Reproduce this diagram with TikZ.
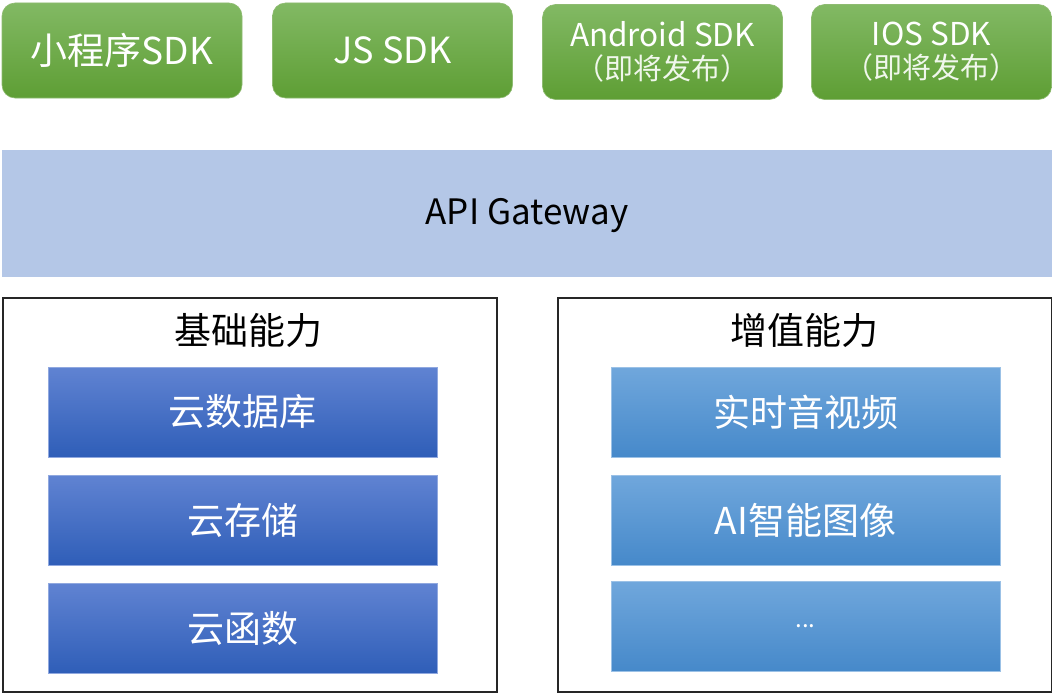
\documentclass[tikz,border=0pt]{standalone}
\usepackage{fontspec}
\setmainfont{Noto Sans CJK SC}
\begin{document}
\begin{tikzpicture}[x=1pt,y=-1pt,
  sdk/.style={rounded corners=13pt,top color=green1,bottom color=green2,draw=green2!70!white,line width=0.6pt,
    minimum width=240pt,minimum height=95pt,inner sep=0pt,text=white,align=center},
  basebox/.style={top color=blueA1,bottom color=blueA2,draw=blueA1!70!white,line width=0.8pt,
    minimum width=389pt,minimum height=90pt,inner sep=0pt,text=white,font=\fontsize{37}{42}\selectfont},
  addbox/.style={top color=blueB1,bottom color=blueB2,draw=blueB1!70!white,line width=0.8pt,
    minimum width=389pt,minimum height=90pt,inner sep=0pt,text=white,font=\fontsize{37}{42}\selectfont},
  group/.style={draw=black!85,line width=2pt,minimum width=494pt,minimum height=394pt,inner sep=0pt},
  title/.style={font=\fontsize{37}{42}\selectfont,text=black,inner sep=0pt}]
\definecolor{green1}{HTML}{82B964}
\definecolor{green2}{HTML}{5E9E34}
\definecolor{blueA1}{HTML}{6083D2}
\definecolor{blueA2}{HTML}{2F5EB8}
\definecolor{blueB1}{HTML}{70A7DC}
\definecolor{blueB2}{HTML}{4689CA}
\definecolor{gw}{HTML}{B4C7E7}
\useasboundingbox (0,0) rectangle (1052,693);
% SDK row
\node[sdk,font=\fontsize{37}{42}\selectfont] (s1) at (122,50.5) {小程序SDK};
\node[sdk,font=\fontsize{36}{42}\selectfont] (s2) at (392.5,50.5) {JS SDK};
\node[sdk,font=\fontsize{31.5}{33}\selectfont] (s3) at (662.5,52) {Android SDK\\{\fontsize{29}{31}\selectfont\color{white!88!green1}（即将发布）}};
\node[sdk,font=\fontsize{31.5}{33}\selectfont] (s4) at (931.5,52) {IOS SDK\\{\fontsize{29}{31}\selectfont\color{white!88!green1}（即将发布）}};
% gateway
\node[fill=gw,minimum width=1050pt,minimum height=127pt,inner sep=0pt] (gwn) at (527,213.5) {};
\node[font=\fontsize{35}{40}\selectfont,inner sep=0pt] (gwt) at (527,216) {API Gateway};
% groups
\node[group] (g1) at (249.5,495) {};
\node[group] (g2) at (804.5,495) {};
\node[title] (t1) at (248,330) {基础能力};
\node[title] (t2) at (804,330) {增值能力};
\node[basebox] (b1) at (242.5,412) {云数据库};
\node[basebox] (b2) at (242.5,520) {云存储};
\node[basebox] (b3) at (242.5,628) {云函数};
\node[addbox] (a1) at (805.5,412) {实时音视频};
\node[addbox] (a2) at (805.5,520) {AI智能图像};
\node[addbox,font=\fontsize{24}{26}\selectfont] (a3) at (805.5,626) {...};
\end{tikzpicture}
\end{document}
